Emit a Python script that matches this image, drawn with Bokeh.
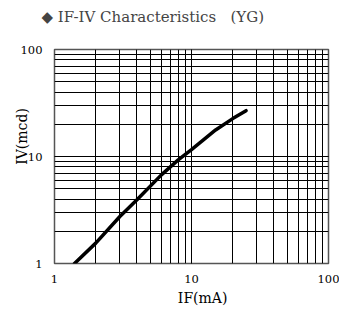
from bokeh.plotting import figure
from bokeh.models import LogTicker
from bokeh.embed import file_html
from bokeh.resources import INLINE

NB = "\u00a0"
title_text = "◆ IF-IV Characteristics" + NB * 3 + "(YG)"
x_label = "IF(mA)"
y_label = "IV(mcd)"

if_ma = [1.4, 2, 3, 4, 6, 8, 10, 15, 20, 25]
iv_mcd = [1.0, 1.55, 2.75, 3.95, 6.7, 9.3, 11.6, 17.7, 22.6, 26.8]

tick_labels = {1: "1", 10: "10", 100: "100"}

FONT = "DejaVu Serif"

p = figure(width=339, height=309, x_axis_type="log", y_axis_type="log",
           x_range=(1, 100), y_range=(1, 100),
           output_backend="svg", toolbar_location=None,
           min_border_left=54, min_border_right=11, min_border_top=47, min_border_bottom=46)

# a blank second line lifts the title towards the top edge, as in the original
p.title.text = title_text + "\n" + NB
p.title.text_font = FONT
p.title.text_font_size = "15px"
p.title.text_font_style = "normal"
p.title.align = "left"
p.title.vertical_align = "bottom"
p.title.offset = -13
p.title.standoff = 11

for ax in (p.xaxis[0], p.yaxis[0]):
    ax.axis_line_color = None
    ax.major_tick_line_color = None
    ax.minor_tick_line_color = None
    ax.major_label_text_font = FONT
    ax.major_label_text_font_size = "11.5px"
    ax.major_label_text_color = "black"
    ax.axis_label_text_font = FONT
    ax.axis_label_text_font_size = "14px"
    ax.axis_label_text_font_style = "normal"
    ax.axis_label_text_color = "black"

p.xaxis.ticker = LogTicker(num_minor_ticks=10)
p.yaxis.ticker = LogTicker(num_minor_ticks=10)
p.xaxis.major_label_overrides = tick_labels
p.yaxis.major_label_overrides = tick_labels
# leading no-break spaces shift the axis titles off-centre, as in the original
p.xaxis.axis_label = NB * 5 + x_label
p.yaxis.axis_label = NB * 9 + y_label
p.xaxis.major_label_standoff = 5
p.yaxis.major_label_standoff = 6
p.xaxis.axis_label_standoff = 4
p.yaxis.axis_label_standoff = -12

for g in (p.xgrid[0], p.ygrid[0]):
    g.grid_line_color = "black"
    g.grid_line_width = 1
    g.minor_grid_line_color = "black"
    g.minor_grid_line_width = 1

p.outline_line_color = "#555555"
p.outline_line_width = 1.5
p.background_fill_color = "white"
p.border_fill_color = "white"

p.line(if_ma, iv_mcd, line_color="black", line_width=3.5, line_cap="round")

open("out.html", "w").write(file_html(p, INLINE))
